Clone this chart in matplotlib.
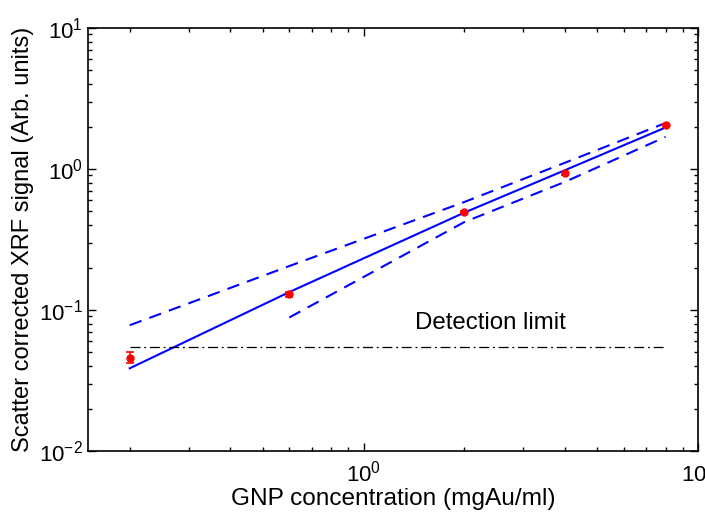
import matplotlib
matplotlib.use("Agg")
import matplotlib.pyplot as plt
import numpy as np

plt.rcParams['font.family'] = ['Liberation Sans', 'DejaVu Sans']
plt.rcParams['mathtext.fontset'] = 'custom'
plt.rcParams['mathtext.rm'] = 'Liberation Sans'
plt.rcParams['mathtext.it'] = 'Liberation Sans'
plt.rcParams['mathtext.bf'] = 'Liberation Sans'

# Data
conc = [0.2, 0.6, 2.0, 4.0, 8.0]
signal = [0.046, 0.129, 0.494, 0.93, 2.04]
signal_err = [0.004, 0.006, 0.01, 0.02, 0.04]
fit_vals = [0.0386, 0.134, 0.49, 0.98, 1.97]
upper_x = [0.2, 0.6, 2.0, 4.0, 8.0]
upper_vals = [0.078, 0.205, 0.583, 1.107, 2.12]
lower_x = [0.6, 2.0, 4.0, 8.0]
lower_vals = [0.0885, 0.42, 0.81, 1.69]
det_limit = 0.055
det_x = [0.2, 8.0]

fig = plt.figure(figsize=(7.05, 5.16), dpi=100)
ax = fig.add_axes([0.1248, 0.126, 0.8652, 0.8197])

ax.plot(conc, fit_vals, '-', color='#0000ff', lw=1.5)
ax.plot(upper_x, upper_vals, '--', color='#0000ff', lw=1.5, dashes=(6, 4))
ax.plot(lower_x, lower_vals, '--', color='#0000ff', lw=1.5, dashes=(6, 4))
ax.plot(det_x, [det_limit, det_limit], color='black', lw=0.9,
        dashes=(8, 3, 1.5, 3))
ax.errorbar(conc, signal, yerr=signal_err, fmt='o', color='#ff0000',
            ms=5, capsize=3, elinewidth=1.2, capthick=1.2)

ax.text(2.4, 0.081, 'Detection limit', fontsize=17.3, ha='center', va='center')

ax.set_xscale('log')
ax.set_yscale('log')
ax.set_xlim(0.15, 10)
ax.set_ylim(0.01, 10)

ax.set_xlabel('GNP concentration (mgAu/ml)', fontsize=17.6, labelpad=1)
ax.set_ylabel('Scatter corrected XRF signal (Arb. units)', fontsize=17,
              labelpad=4)

ax.tick_params(which='both', direction='in', top=True, right=True,
               labelsize=16, width=1)
ax.tick_params(axis='x', which='both', pad=7)
ax.tick_params(which='major', length=6)
ax.tick_params(which='minor', length=3)
for s in ax.spines.values():
    s.set_linewidth(1.2)

fig.savefig('out.png', dpi=100)
